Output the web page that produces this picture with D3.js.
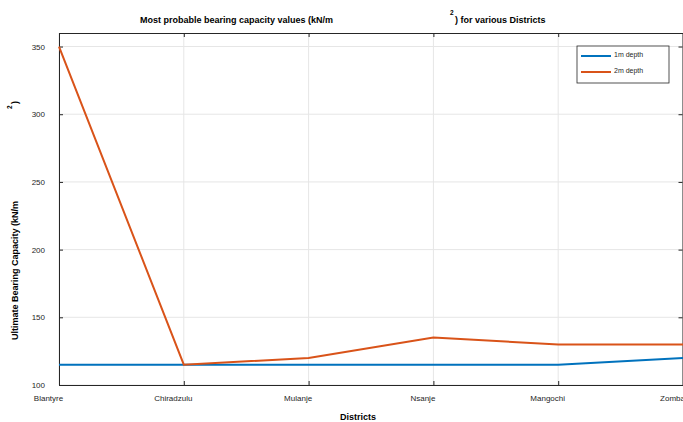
<!DOCTYPE html>
<html>
<head>
<meta charset="utf-8">
<script src="https://cdn.jsdelivr.net/npm/d3@7"></script>
<style>
  body { margin: 0; background: #fff; }
  text { font-family: "Liberation Sans", Arial, sans-serif; }
</style>
</head>
<body>
<div id="chart"></div>
<script>
// data
const districts = ['Blantyre', 'Chiradzulu', 'Mulanje', 'Nsanje', 'Mangochi', 'Zomba'];
const depth1m = [115, 115, 115, 115, 115, 120];
const depth2m = [350, 115, 120, 135, 130, 130];
const yTicks = [100, 150, 200, 250, 300, 350];
const seriesNames = ['1m depth', '2m depth'];

const W = 683, H = 422;
const margin = { top: 33, right: 0, bottom: 37, left: 59 };
const width = 683 - margin.left - margin.right;
const height = H - margin.top - margin.bottom;

const svg = d3.select('#chart').append('svg')
    .attr('width', W)
    .attr('height', H);

const plot = svg.append('g')
    .attr('transform', `translate(${margin.left},${margin.top})`);

const x = d3.scalePoint()
    .domain(districts)
    .range([0, width]);

const y = d3.scaleLinear()
    .domain([100, 360])
    .range([height, 0]);

// grid
plot.append('g').selectAll('line.gx')
    .data(districts)
    .enter().append('line')
    .attr('x1', d => x(d)).attr('x2', d => x(d))
    .attr('y1', 0).attr('y2', height)
    .attr('stroke', '#e6e6e6').attr('stroke-width', 1);

plot.append('g').selectAll('line.gy')
    .data(yTicks)
    .enter().append('line')
    .attr('x1', 0).attr('x2', width)
    .attr('y1', d => y(d)).attr('y2', d => y(d))
    .attr('stroke', '#e6e6e6').attr('stroke-width', 1);

// axes (matlab style box with inner ticks)
const xAxis = plot.append('g')
    .attr('transform', `translate(0,${height})`)
    .call(d3.axisBottom(x).tickSizeInner(-4).tickSizeOuter(0).tickPadding(10));
const xTop = plot.append('g')
    .call(d3.axisTop(x).tickSizeInner(-4).tickSizeOuter(0).tickFormat(''));
const yAxis = plot.append('g')
    .call(d3.axisLeft(y).tickValues(yTicks).tickSizeInner(-4).tickSizeOuter(0).tickPadding(14));
const yRight = plot.append('g')
    .attr('transform', `translate(${width - 0.5},0)`)
    .call(d3.axisRight(y).tickValues(yTicks).tickSizeInner(-4).tickSizeOuter(0).tickFormat(''));

[xAxis, xTop, yAxis, yRight].forEach(a => {
    a.select('.domain').attr('stroke', '#262626');
    a.selectAll('.tick line').attr('stroke', '#262626');
    a.selectAll('text')
        .style('font-size', '8px')
        .attr('fill', '#262626');
});
xAxis.selectAll('text').attr('dy', '0.71em').attr('dx', -11);
yAxis.selectAll('text').attr('dy', '0.32em');

// lines
const line = d3.line()
    .x((d, i) => x(districts[i]))
    .y(d => y(d));

const colors = ['#0072BD', '#D95319'];

plot.append('path')
    .datum(depth1m)
    .attr('d', line)
    .attr('fill', 'none')
    .attr('stroke', colors[0])
    .attr('stroke-width', 2);

plot.append('path')
    .datum(depth2m)
    .attr('d', line)
    .attr('fill', 'none')
    .attr('stroke', colors[1])
    .attr('stroke-width', 2);

// legend
const legend = svg.append('g').attr('transform', 'translate(577,46)');
legend.append('rect')
    .attr('width', 92).attr('height', 37)
    .attr('fill', '#fff').attr('stroke', '#262626').attr('stroke-width', 0.8);
seriesNames.forEach((name, i) => {
    const row = legend.append('g').attr('transform', `translate(0,${10 + i * 16})`);
    row.append('line')
        .attr('x1', 4).attr('x2', 34)
        .attr('y1', 0).attr('y2', 0)
        .attr('stroke', colors[i]).attr('stroke-width', 2);
    row.append('text')
        .attr('x', 37).attr('y', 1)
        .style('font-size', '7px')
        .attr('fill', '#262626')
        .text(name);
});

// title
svg.append('text')
    .attr('x', 333).attr('y', 23)
    .attr('text-anchor', 'end')
    .style('font-size', '9px').style('font-weight', 'bold')
    .attr('fill', '#000')
    .text('Most probable bearing capacity values (kN/m');
svg.append('text')
    .attr('x', 450).attr('y', 15)
    .style('font-size', '6.5px').style('font-weight', 'bold')
    .text('2');
svg.append('text')
    .attr('x', 455).attr('y', 23)
    .style('font-size', '9px').style('font-weight', 'bold')
    .text(') for various Districts');

// x label
svg.append('text')
    .attr('x', 358).attr('y', 420)
    .attr('text-anchor', 'middle')
    .style('font-size', '9px').style('font-weight', 'bold')
    .text('Districts');

// y label
svg.append('text')
    .attr('transform', 'translate(18,340) rotate(-90)')
    .style('font-size', '9px').style('font-weight', 'bold')
    .text('Ultimate Bearing Capacity (kN/m');
svg.append('text')
    .attr('transform', 'translate(12,109) rotate(-90)')
    .style('font-size', '6.5px').style('font-weight', 'bold')
    .text('2');
svg.append('text')
    .attr('transform', 'translate(18,104) rotate(-90)')
    .style('font-size', '9px').style('font-weight', 'bold')
    .text(')');
</script>
</body>
</html>
